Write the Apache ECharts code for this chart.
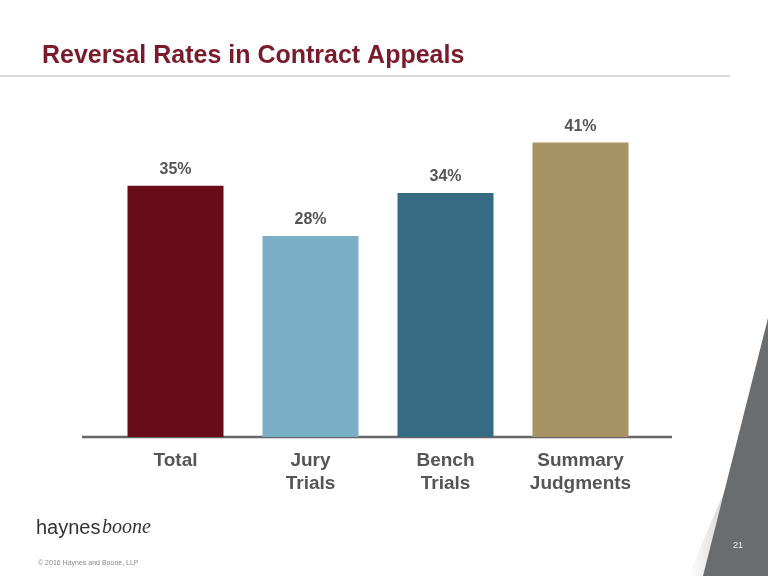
<!DOCTYPE html>
<html><head><meta charset="utf-8">
<script src="https://cdn.jsdelivr.net/npm/echarts@6/dist/echarts.min.js"></script>
<style>html,body{margin:0;padding:0;background:#fff}#c{width:768px;height:576px}</style>
</head><body><div id="c"></div>
<script>
const categories = ['Total', 'Jury\nTrials', 'Bench\nTrials', 'Summary\nJudgments'];
const values = [35, 28, 34, 41];
const colors = ['#690c19', '#7aafc6', '#366b83', '#a89364'];

const chart = echarts.init(document.getElementById('c'));
chart.setOption({
  backgroundColor: '#fff',
  animation: false,
  title: { text: 'Reversal Rates in Contract Appeals', left: 37, top: 39,
    textStyle: { color: '#7a1a2a', fontSize: 25, fontWeight: 'bold', fontFamily: 'Liberation Sans' } },
  grid: { left: 108, width: 540, top: 78, height: 359 },
  xAxis: { type: 'category', data: categories,
    axisLine: { show: false }, axisTick: { show: false },
    axisLabel: { color: '#555', fontSize: 19, fontWeight: 'bold', fontFamily: 'Liberation Sans', lineHeight: 23, margin: 12 } },
  yAxis: { type: 'value', min: 0, max: 50, show: false, splitLine: { show: false } },
  series: [{ type: 'bar', barWidth: 96,
    data: values.map((v, i) => ({ value: v, itemStyle: { color: colors[i] } })),
    label: { show: true, position: 'top', distance: 8, formatter: '{c}%', color: '#555', fontSize: 16, fontWeight: 'bold', fontFamily: 'Liberation Sans' } }],
  graphic: [
    { type: 'line', shape: { x1: 0, y1: 76, x2: 730, y2: 76 }, style: { stroke: '#bbb', lineWidth: 1 } },
    { type: 'line', shape: { x1: 82, y1: 437, x2: 672, y2: 437 }, style: { stroke: '#666', lineWidth: 2.5 } },
    { type: 'polygon', shape: { points: [[768, 300], [768, 576], [688, 576], [768, 390]] },
      style: { fill: new echarts.graphic.LinearGradient(0, 0, 1, 0, [{ offset: 0, color: '#fff' }, { offset: 1, color: '#aaa' }]) } },
    { type: 'polygon', shape: { points: [[768, 318], [768, 576], [703, 576]] }, style: { fill: '#6a6d70' } },
    { type: 'text', left: 733, top: 541, style: { text: '21', fill: '#eee', fontSize: 9, fontFamily: 'Liberation Sans' } },
    { type: 'text', left: 36, top: 518, style: { text: 'haynes', fill: '#333', fontSize: 20, fontFamily: 'Liberation Sans' } },
    { type: 'text', left: 102, top: 518, style: { text: 'boone', fill: '#333', fontSize: 20, fontStyle: 'italic', fontFamily: 'Liberation Serif' } },
    { type: 'text', left: 38, top: 560, style: { text: '© 2016 Haynes and Boone, LLP', fill: '#888', fontSize: 7, fontFamily: 'Liberation Sans' } }
  ]
});
</script></body></html>
